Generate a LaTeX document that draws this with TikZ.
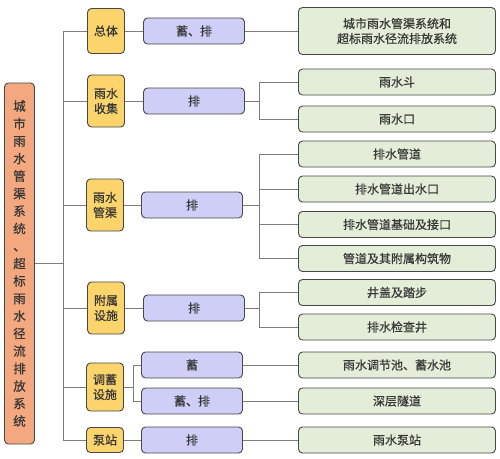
\documentclass[tikz,border=0pt]{standalone}
\usepackage{fontspec}
\setmainfont{Noto Sans CJK SC}[FakeBold=0.6]
\usepackage{xcolor}
\definecolor{rootorange}{RGB}{244,168,128}
\definecolor{catyellow}{RGB}{252,212,108}
\definecolor{actpurple}{RGB}{206,206,246}
\definecolor{itemgreen}{RGB}{228,237,216}
\definecolor{edgegray}{RGB}{72,72,72}
\definecolor{linegray}{RGB}{125,125,125}

\tikzset{
  box/.style={draw=edgegray, line width=0.9pt, rounded corners=4pt, inner sep=0pt,
    align=center, text=black!78, font=\fontsize{12}{15}\selectfont},
  rootbox/.style={box, fill=rootorange, minimum width=30pt, minimum height=361pt,
    font=\fontsize{12.5}{17.5}\selectfont},
  catbox/.style={box, fill=catyellow, minimum width=37pt},
  actbox/.style={box, fill=actpurple, minimum width=101pt, minimum height=26pt},
  itembox/.style={box, fill=itemgreen, minimum width=197pt, minimum height=26pt},
  link/.style={draw=linegray, line width=1pt}
}

\begin{document}
\begin{tikzpicture}[x=1pt, y=-1pt]
\useasboundingbox (0,0) rectangle (500,458);

% root
\node[rootbox] (root) at (19.5,263.5) {城\\市\\雨\\水\\管\\渠\\系\\统\\、\\超\\标\\雨\\水\\径\\流\\排\\放\\系\\统};

% categories
\node[catbox, minimum height=45pt] (whole) at (106,31) {总体};
\node[catbox, minimum height=52pt] (collect) at (106,101) {雨水\\收集};
\node[catbox, minimum height=52pt] (pipe) at (105,205) {雨水\\管渠};
\node[catbox, minimum height=52pt] (aux) at (106,308) {附属\\设施};
\node[catbox, minimum height=48pt] (store) at (105,387) {调蓄\\设施};
\node[catbox, minimum height=25pt] (pump) at (105,440) {泵站};

% functions
\node[actbox] (a-whole) at (194,31) {蓄、排};
\node[actbox] (a-collect) at (194,101) {排};
\node[actbox] (a-pipe) at (192,205) {排};
\node[actbox] (a-aux) at (194,308) {排};
\node[actbox] (a-store1) at (192,365) {蓄};
\node[actbox] (a-store2) at (192,401) {蓄、排};
\node[actbox] (a-pump) at (192,440) {排};

% facilities
\node[itembox, minimum height=47pt] (i-sys) at (397,31) {城市雨水管渠系统和\\超标雨水径流排放系统};
\node[itembox] (i-inlet) at (397,82) {雨水斗};
\node[itembox] (i-grate) at (397,119) {雨水口};
\node[itembox] (i-pipe) at (397,154) {排水管道};
\node[itembox] (i-outlet) at (397,189) {排水管道出水口};
\node[itembox] (i-base) at (397,224.5) {排水管道基础及接口};
\node[itembox] (i-struct) at (397,258.5) {管道及其附属构筑物};
\node[itembox] (i-cover) at (397,292.5) {井盖及踏步};
\node[itembox] (i-well) at (397,327) {排水检查井};
\node[itembox] (i-pond) at (397,365) {雨水调节池、蓄水池};
\node[itembox] (i-tunnel) at (397,401) {深层隧道};
\node[itembox] (i-station) at (397,440) {雨水泵站};

% connectors
\coordinate (trunk) at (63,0);
\coordinate (sbr) at (133,0);
\coordinate (ibr) at (259,0);
\draw[link] (whole.west -| trunk) -- (pump.west -| trunk);
\draw[link] (root.east) -- (root.east -| trunk);
\foreach \c in {whole,collect,pipe,aux,store,pump}
  \draw[link] (\c.west -| trunk) -- (\c.west);
\foreach \c in {whole,collect,pipe,aux,pump}
  \draw[link] (\c.east) -- (a-\c.west);
\draw[link] (store.east) -- (store.east -| sbr);
\draw[link] (a-store1.west) -| (sbr |- a-store2) -- (a-store2.west);

\draw[link] (a-whole.east) -- (i-sys.west);
\draw[link] (a-collect.east) -- (a-collect.east -| ibr);
\draw[link] (i-inlet.west) -| (ibr |- i-grate) -- (i-grate.west);
\draw[link] (a-pipe.east) -- (a-pipe.east -| ibr);
\draw[link] (i-pipe.west) -| (ibr |- i-struct) -- (i-struct.west);
\draw[link] (i-outlet.west) -- (i-outlet.west -| ibr);
\draw[link] (i-base.west) -- (i-base.west -| ibr);
\draw[link] (a-aux.east) -- (a-aux.east -| ibr);
\draw[link] (i-cover.west) -| (ibr |- i-well) -- (i-well.west);
\draw[link] (a-store1.east) -- (i-pond.west);
\draw[link] (a-store2.east) -- (i-tunnel.west);
\draw[link] (a-pump.east) -- (i-station.west);
\end{tikzpicture}
\end{document}
